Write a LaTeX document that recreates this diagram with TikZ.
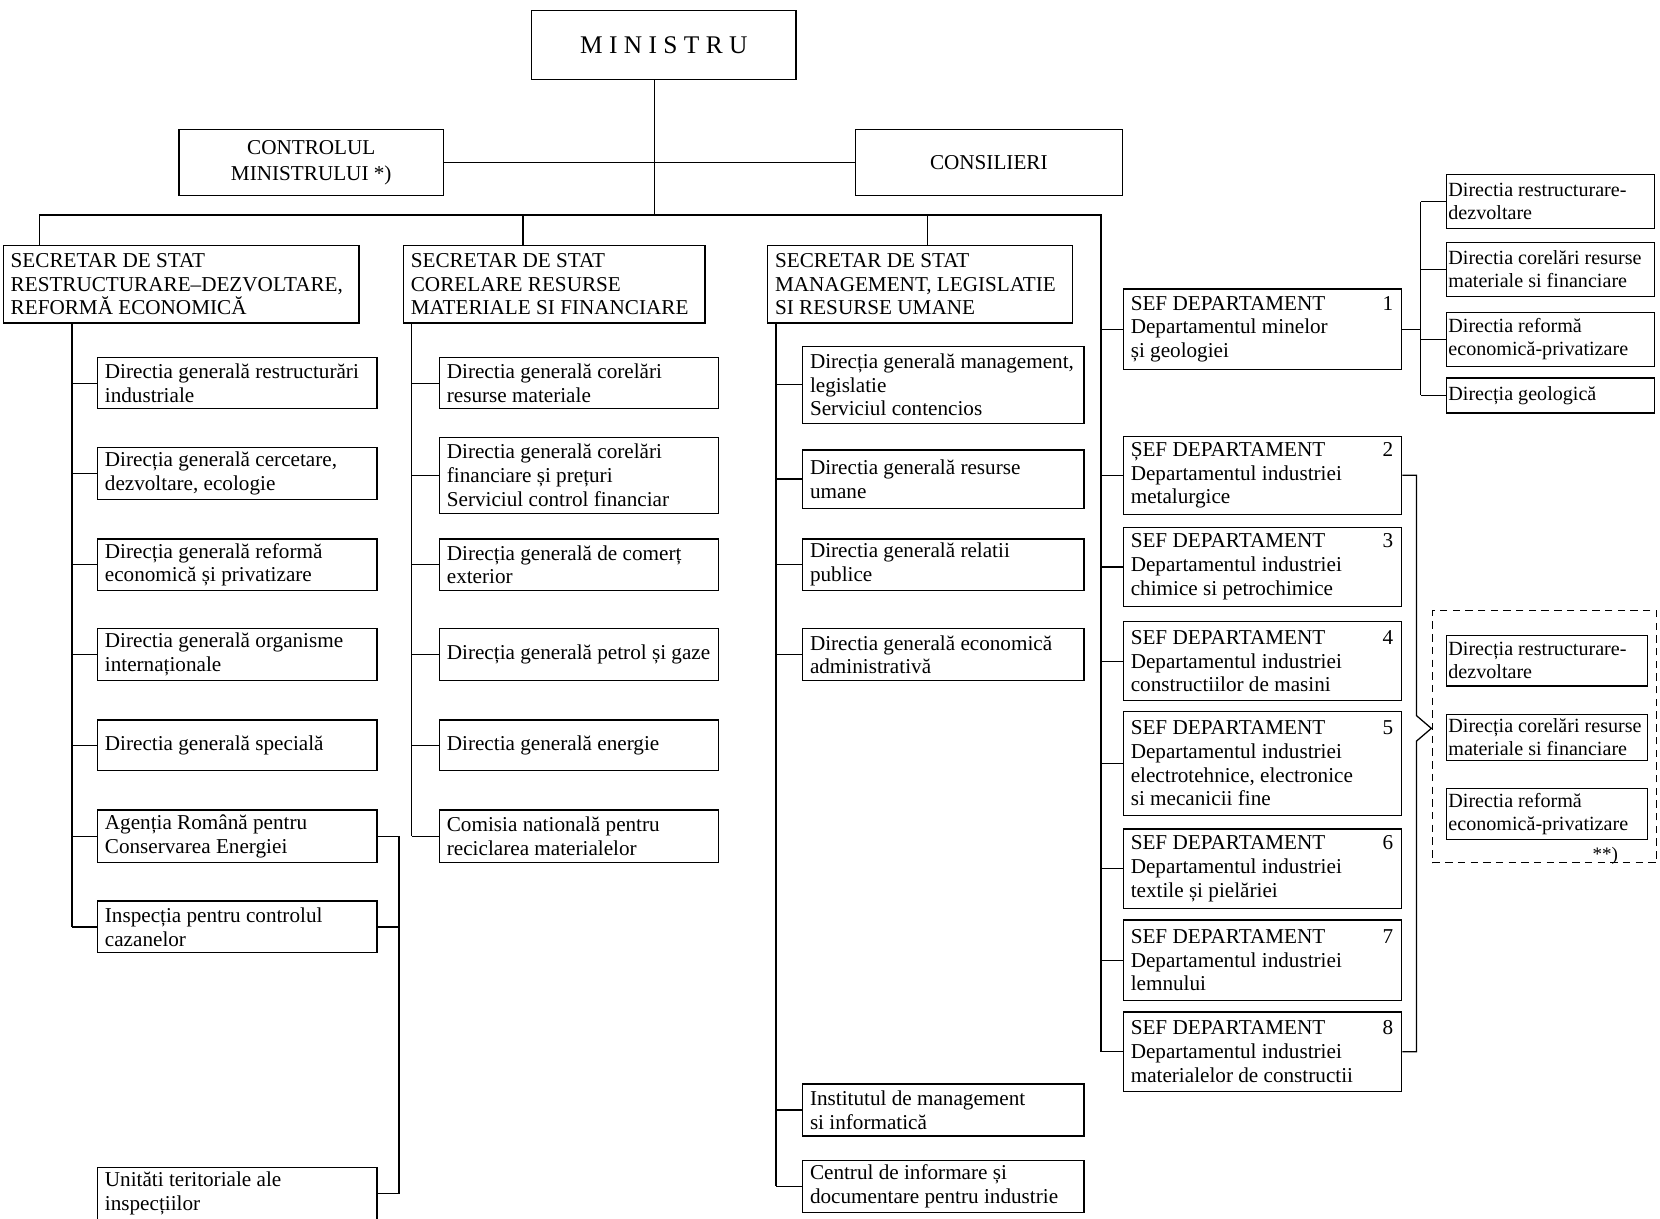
\documentclass[tikz,border=0pt]{standalone}
\usepackage{fontspec}
\setmainfont{Liberation Serif}
\tikzset{
  bx/.style={draw, line width=1.2pt, rectangle, inner sep=0pt},
  txt/.style={anchor=west, align=left, inner sep=0pt, font=\fontsize{20}{22.5}\selectfont},
  sm/.style={xshift=-5pt, font=\fontsize{19}{22}\selectfont},
  ln/.style={line width=1.2pt},
}
\newcommand{\bxn}[7][]{%
  \pgfmathsetmacro\bxw{#5-#3}%
  \pgfmathsetmacro\bxh{#6-#4}%
  \pgfmathsetmacro\bxx{(#3+#5)/2}%
  \pgfmathsetmacro\bxy{(#4+#6)/2}%
  \node[bx, minimum width=\bxw pt, minimum height=\bxh pt] (#2) at (\bxx,\bxy) {};
  \node[txt, #1] (#2t) at ([xshift=7.5pt]#2.west) {#7};
}
\newcommand{\sefl}[2]{\makebox[248pt][l]{#1\hfill #2}}
\begin{document}
\begin{tikzpicture}[x=1pt,y=-1pt]
\useasboundingbox (0,0) rectangle (1568,1150.5);
\fill[white] (0,0) rectangle (1568,1150.5);

% top
\node[bx, minimum width=250pt, minimum height=65pt, font=\fontsize{24}{28}\selectfont] (min) at (627,42.5) {M I N I S T R U};
\node[bx, minimum width=250pt, minimum height=63pt, align=center, font=\fontsize{20}{25}\selectfont] (ctrl) at (294,153.5) {CONTROLUL\\MINISTRULUI *)};
\node[bx, minimum width=252pt, minimum height=63pt, font=\fontsize{20}{25}\selectfont] (cons) at (934,153.5) {CONSILIERI};

% secretaries
\bxn{sec1}{3}{232}{339}{305}{SECRETAR DE STAT\\RESTRUCTURARE–DEZVOLTARE,\\REFORMĂ ECONOMICĂ}
\bxn{sec2}{381}{232}{666}{305}{SECRETAR DE STAT\\CORELARE RESURSE\\MATERIALE SI FINANCIARE}
\bxn{sec3}{725}{232}{1013}{305}{SECRETAR DE STAT\\MANAGEMENT, LEGISLATIE\\SI RESURSE UMANE}

% column 1
\bxn{a1}{92}{338}{356}{386}{Directia generală restructurări\\industriale}
\bxn{a2}{92}{423}{356}{472}{Direcția generală cercetare,\\dezvoltare, ecologie}
\bxn{a3}{92}{509}{356}{558}{Direcția generală reformă\\economică și privatizare}
\bxn{a4}{92}{594}{356}{643}{Directia generală organisme\\internaționale}
\bxn{a5}{92}{680}{356}{728}{Directia generală specială}
\bxn{a6}{92}{765}{356}{815}{Agenția Română pentru\\Conservarea Energiei}
\bxn{a7}{92}{851}{356}{900}{Inspecția pentru controlul\\cazanelor}
\bxn{a8}{92}{1103}{356}{1152}{Unităti teritoriale ale\\inspecțiilor}

% column 2
\bxn{b1}{415}{338}{679}{386}{Directia generală corelări\\resurse materiale}
\bxn{b2}{415}{413}{679}{485}{Directia generală corelări\\financiare și prețuri\\Serviciul control financiar}
\bxn{b3}{415}{509}{679}{558}{Direcția generală de comerț\\exterior}
\bxn{b4}{415}{594}{679}{643}{Direcția generală petrol și gaze}
\bxn{b5}{415}{680}{679}{728}{Directia generală energie}
\bxn{b6}{415}{765}{679}{815}{Comisia natională pentru\\reciclarea materialelor}

% column 3
\bxn{c1}{758}{327}{1024}{400}{Direcția generală management,\\legislatie\\Serviciul contencios}
\bxn{c2}{758}{425}{1024}{480}{Directia generală resurse\\umane}
\bxn{c3}{758}{509}{1024}{558}{Directia generală relatii\\publice}
\bxn{c4}{758}{594}{1024}{643}{Directia generală economică\\administrativă}
\bxn{c5}{758}{1024}{1024}{1073}{Institutul de management\\si informatică}
\bxn{c6}{758}{1096}{1024}{1145}{Centrul de informare și\\documentare pentru industrie}

% departments
\bxn{sef1}{1061}{273}{1324}{349}{\sefl{SEF DEPARTAMENT}{1}\\Departamentul minelor\\și geologiei}
\bxn{sef2}{1061}{412}{1324}{486}{\sefl{ȘEF DEPARTAMENT}{2}\\Departamentul industriei\\metalurgice}
\bxn{sef3}{1061}{498}{1324}{573}{\sefl{SEF DEPARTAMENT}{3}\\Departamentul industriei\\chimice si petrochimice}
\bxn{sef4}{1061}{587}{1324}{662}{\sefl{SEF DEPARTAMENT}{4}\\Departamentul industriei\\constructiilor de masini}
\bxn{sef5}{1061}{672}{1324}{770}{\sefl{SEF DEPARTAMENT}{5}\\Departamentul industriei\\electrotehnice, electronice\\si mecanicii fine}
\bxn{sef6}{1061}{783}{1324}{858}{\sefl{SEF DEPARTAMENT}{6}\\Departamentul industriei\\textile și pielăriei}
\bxn{sef7}{1061}{869}{1324}{945}{\sefl{SEF DEPARTAMENT}{7}\\Departamentul industriei\\lemnului}
\bxn{sef8}{1061}{956}{1324}{1031}{\sefl{SEF DEPARTAMENT}{8}\\Departamentul industriei\\materialelor de constructii}

% right of department 1
\bxn[sm]{e1}{1366}{165}{1563}{216}{Directia restructurare-\\dezvoltare}
\bxn[sm]{e2}{1366}{229}{1563}{280}{Directia corelări resurse\\materiale si financiare}
\bxn[sm]{e3}{1366}{295}{1563}{346}{Directia reformă\\economică-privatizare}
\bxn[sm]{e4}{1366}{357}{1563}{390}{Direcția geologică}

% dashed group
\node[draw, line width=1pt, dash pattern=on 7pt off 5pt, minimum width=212pt, minimum height=238pt, inner sep=0pt] (grp) at (1459,696) {};
\bxn[sm]{g1}{1366}{600}{1556}{648}{Direcția restructurare-\\dezvoltare}
\bxn[sm]{g2}{1366}{675}{1556}{718}{Direcția corelări resurse\\materiale si financiare}
\bxn[sm]{g3}{1366}{745}{1556}{793}{Directia reformă\\economică-privatizare}
\node[anchor=base east, inner sep=0pt, font=\fontsize{18}{20}\selectfont] (stars) at ([xshift=-37pt,yshift=3pt]grp.south east) {**)};

% ---- connectors ----
\coordinate (tr) at (618,203);
\draw[ln] (tr |- min.south) -- (tr);
\draw[ln] (ctrl.east) -- (cons.west);
\coordinate (busL) at (37,203);
\coordinate (busR) at (1040,203);
\coordinate (d2) at (494,203);
\coordinate (d3) at (876,203);
\draw[ln] (busL |- sec1.north) -- (busL) -- (busR) -- (busR |- sef8.west) -- (sef8.west);
\draw[ln] (d2) -- (d2 |- sec2.north);
\draw[ln] (d3) -- (d3 |- sec3.north);
\foreach \n in {sef1,sef2,sef3,sef4,sef5,sef6,sef7} \draw[ln] (busR |- \n.west) -- (\n.west);

\coordinate (s1) at (68,305);
\draw[ln] (s1 |- sec1.south) -- (s1 |- a7.west);
\foreach \n in {a1,a2,a3,a4,a5,a6,a7} \draw[ln] (s1 |- \n.west) -- (\n.west);
\coordinate (rs) at (377,787);
\draw[ln] (a6.east) -- (rs |- a6.east) -- (rs |- a8.east) -- (a8.east);
\draw[ln] (a7.east) -- (rs |- a7.east);

\coordinate (s2) at (389,305);
\draw[ln] (s2 |- sec2.south) -- (s2 |- b6.west);
\foreach \n in {b1,b2,b3,b4,b5,b6} \draw[ln] (s2 |- \n.west) -- (\n.west);

\coordinate (s3) at (733,305);
\draw[ln] (s3 |- sec3.south) -- (s3 |- c6.west);
\foreach \n in {c1,c2,c3,c4,c5,c6} \draw[ln] (s3 |- \n.west) -- (\n.west);

\coordinate (r1) at (1342,186);
\draw[ln] (sef1.east) -- (r1 |- sef1.east);
\draw[ln] (r1 |- e1.west) -- (r1 |- e4.west);
\foreach \n in {e1,e2,e3,e4} \draw[ln] (r1 |- \n.west) -- (\n.west);

\coordinate (sp) at (1338,441);
\coordinate (chA) at (1338,676);
\coordinate (chB) at (1352,688);
\coordinate (chC) at (1338,700);
\draw[ln] (sef2.east) -- (sp |- sef2.east) -- (chA) -- (chB) -- (chC) -- (sp |- sef8.east) -- (sef8.east);
\end{tikzpicture}
\end{document}
